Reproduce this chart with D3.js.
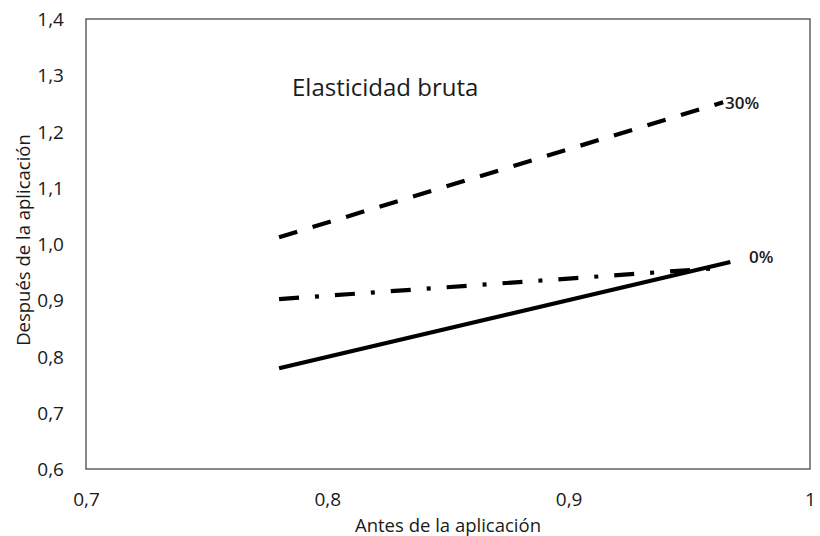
<!DOCTYPE html>
<html><head><meta charset="utf-8">
<script src="https://cdn.jsdelivr.net/npm/d3@7"></script>
<style>body{margin:0;background:#fff}svg{display:block}text{font-family:"Open Sans","Noto Sans",sans-serif;fill:#1a1a1a}</style>
</head><body>
<svg id="c" width="820" height="536"></svg>
<script>
const xTicks = [0.7, 0.8, 0.9, 1.0];
const yTicks = [0.6, 0.7, 0.8, 0.9, 1.0, 1.1, 1.2, 1.3, 1.4];
const xLabels = ["0,7", "0,8", "0,9", "1"];
const yLabels = ["0,6", "0,7", "0,8", "0,9", "1,0", "1,1", "1,2", "1,3", "1,4"];
const seriesNames = ["0%", "30%", "mix"];
const xAntes = [0.78, 0.967];
const ySolid = [0.779, 0.968];
const yDashed = [1.012, 1.252];
const yDashDot = [0.902, 0.958];
const xDashEnd = [0.78, 0.964];
const title = "Elasticidad bruta";

const svg = d3.select("#c");
const L = 86, R = 810, T = 19, B = 469;
const x = d3.scaleLinear().domain([0.7, 1.0]).range([L, R]);
const y = d3.scaleLinear().domain([0.6, 1.4]).range([B, T]);

svg.append("rect").attr("x", L).attr("y", T).attr("width", R - L).attr("height", B - T)
  .attr("fill", "none").attr("stroke", "#4a4a4a").attr("stroke-width", 1.3);

const xa = d3.axisBottom(x).tickValues(xTicks).tickSize(0).tickFormat((d, i) => xLabels[i]);
const gx = svg.append("g").attr("transform", `translate(0,${B})`).call(xa);
gx.select(".domain").remove();
gx.selectAll("text").attr("dy", 0).attr("y", 37).style("font-size", "19px");

const ya = d3.axisLeft(y).tickValues(yTicks).tickSize(0).tickFormat((d, i) => yLabels[i]);
const gy = svg.append("g").attr("transform", `translate(${L},0)`).call(ya);
gy.select(".domain").remove();
gy.selectAll("text").attr("x", -22).attr("dy", "0.35em").style("font-size", "19px");

const line = d3.line().x(d => x(d[0])).y(d => y(d[1]));
function draw(xs, ys, dash) {
  svg.append("path").datum(xs.map((v, i) => [v, ys[i]])).attr("d", line)
    .attr("fill", "none").attr("stroke", "#000").attr("stroke-width", 4.2)
    .attr("stroke-dasharray", dash);
}
draw(xAntes, ySolid, null);
draw(xDashEnd, yDashed, "19,16");
draw(xDashEnd, yDashDot, "20,16,4,16");

svg.append("text").attr("x", x(xDashEnd[1]) + 2).attr("y", 109)
  .style("font-size", "17px").style("font-weight", "600").text(seriesNames[1]);
svg.append("text").attr("x", 749).attr("y", 263)
  .style("font-size", "17px").style("font-weight", "600").text(seriesNames[0]);

svg.append("text").attr("x", 292).attr("y", 96).style("font-size", "24px").text(title);

svg.append("text").attr("x", 448).attr("y", 532).attr("text-anchor", "middle")
  .style("font-size", "18.5px").text("Antes de la aplicación");
svg.append("text").attr("transform", `translate(30,240) rotate(-90)`)
  .attr("text-anchor", "middle").style("font-size", "18.5px").text("Después de la aplicación");
</script>
</body></html>
